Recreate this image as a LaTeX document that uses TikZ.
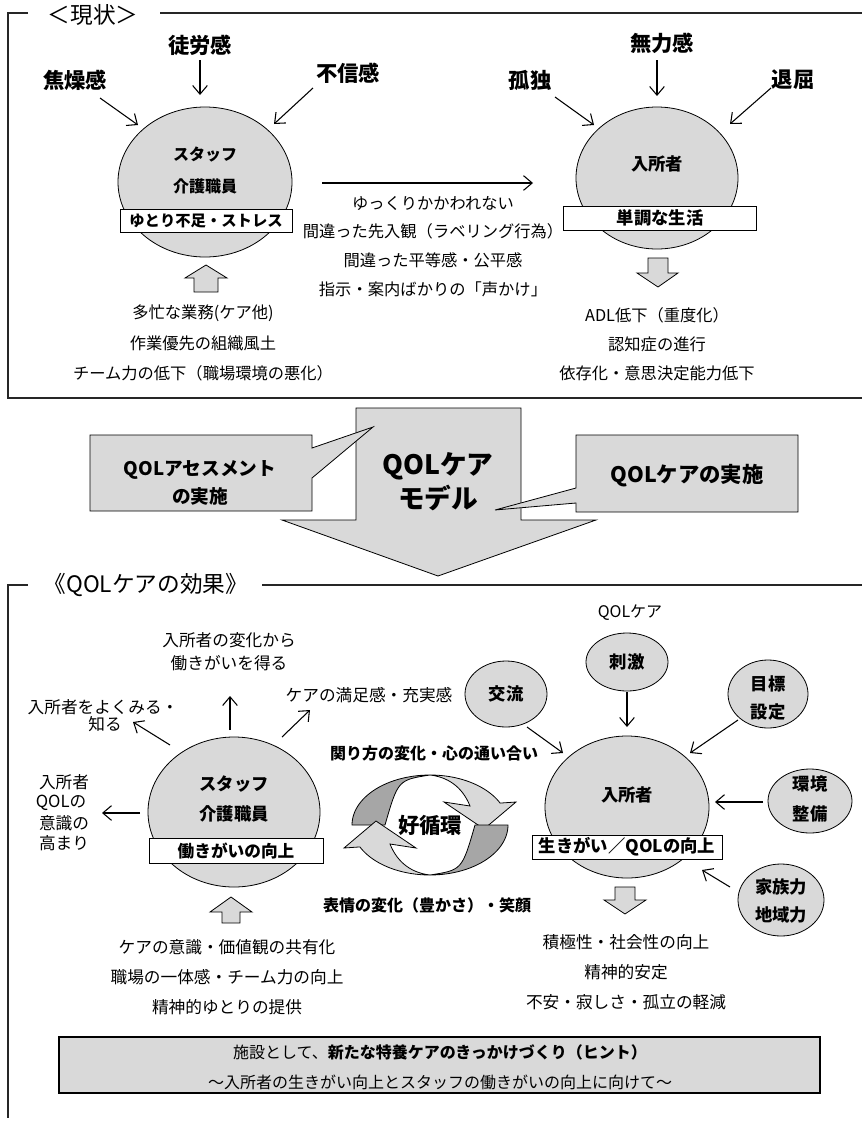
\documentclass[tikz,border=0pt]{standalone}
\usepackage{fontspec}
\setmainfont{Noto Sans CJK JP}
\usetikzlibrary{arrows.meta,shapes.geometric}
\definecolor{fillg}{HTML}{D9D9D9}
\definecolor{darkg}{HTML}{A6A6A6}
\begin{document}
\begin{tikzpicture}[x=0.75pt,y=-0.75pt,
  every node/.style={inner sep=0pt},
  txt/.style={font=\fontsize{#1}{#1}\selectfont},
  btxt/.style={font=\fontsize{#1}{#1}\selectfont\bfseries},
  arr/.style={-{Straight Barb[length=6.5pt,width=11pt]}, line width=0.8pt},
  ell/.style={ellipse, draw, fill=fillg, line width=0.6pt},
  wbox/.style={draw, fill=white, line width=0.7pt},
  blk/.style={draw, fill=fillg, line width=0.6pt, line join=miter},
  frame/.style={line width=0.9pt, draw=black!85}
]
\useasboundingbox (0,0) rectangle (862,1125);

% ---------------- top frame ----------------
\draw[frame] (28,13) -- (8,13) -- (8,398) -- (862,398);
\draw[frame] (160,13) -- (862,13);
\node[txt=17] (title1) at (93,15) {＜現状＞};

% ellipses
\node[ell, minimum width=130.5pt, minimum height=112.5pt] (staff1) at (205,182) {};
\node[ell, minimum width=121.5pt, minimum height=106.5pt] (res1) at (657,178) {};
\node[btxt=12] (s1a) at (205,155) {スタッフ};
\node[btxt=12] (s1b) at (205,186) {介護職員};
\node[wbox, btxt=11.5, minimum width=129pt, minimum height=17.5pt] (s1box) at (206,221) {ゆとり不足・ストレス};
\node[btxt=13] (r1a) at (657,164) {入所者};
\node[wbox, btxt=13, minimum width=144.75pt, minimum height=18pt] (r1box) at (660,218) {単調な生活};

% feelings
\node[btxt=16] (f1) at (75,80) {焦燥感};
\node[btxt=16] (f2) at (200,45) {徒労感};
\node[btxt=16] (f3) at (348,73) {不信感};
\node[btxt=16] (f4) at (530,80) {孤独};
\node[btxt=16] (f5) at (662,43) {無力感};
\node[btxt=16] (f6) at (793,80) {退屈};
\coordinate (a1s) at (100,98);  \coordinate (a1e) at (138,125);
\coordinate (a2s) at (200,60);  \coordinate (a2e) at (200,95);
\coordinate (a3s) at (313,88);  \coordinate (a3e) at (274,124);
\coordinate (a4s) at (555,97);  \coordinate (a4e) at (594,125);
\coordinate (a5s) at (657,60);  \coordinate (a5e) at (657,96);
\coordinate (a6s) at (771,88);  \coordinate (a6e) at (730,124);
\foreach \i in {1,...,6} {\draw[arr] (a\i s) -- (a\i e);}

% middle arrow and texts
\coordinate (m1s) at (322,183); \coordinate (m1e) at (533,183);
\draw[arr] (m1s) -- (m1e);
\node[txt=12.2] (mt1) at (433,203) {ゆっくりかかわれない};
\node[txt=12.2] (mt2) at (433,231) {間違った先入観（ラベリング行為）};
\node[txt=12.2] (mt3) at (433,260) {間違った平等感・公平感};
\node[txt=12.2] (mt4) at (433,289) {指示・案内ばかりの「声かけ」};

% block arrows
\draw[blk] (206,265) -- (227,278) -- (218,278) -- (218,292) -- (194,292) -- (194,278) -- (185,278) -- cycle;
\draw[blk] (658,287) -- (678,273) -- (668,273) -- (668,258) -- (648,258) -- (648,273) -- (637,273) -- cycle;

\node[txt=12.2] (lt1) at (203,313) {多忙な業務(ケア他)};
\node[txt=12.2] (lt2) at (203,343) {作業優先の組織風土};
\node[txt=12.2] (lt3) at (203,373) {チーム力の低下（職場環境の悪化）};
\node[txt=12.2] (rt1) at (657,315) {ADL低下（重度化）};
\node[txt=12.2] (rt2) at (657,344) {認知症の進行};
\node[txt=12.2] (rt3) at (657,373) {依存化・意思決定能力低下};

% ---------------- middle ----------------
\draw[blk] (356,408) -- (521,408) -- (521,520) -- (596,520) -- (438,576) -- (282,520) -- (356,520) -- cycle;
\node[btxt=20] (qm1) at (438,466) {QOLケア};
\node[btxt=20] (qm2) at (438,498) {モデル};
\draw[blk] (90,435) -- (312,435) -- (312,448) -- (373,427) -- (312,478) -- (312,511) -- (90,511) -- cycle;
\draw[blk] (576,435) -- (798,435) -- (798,512) -- (576,512) -- (576,503) -- (495,510) -- (576,488) -- cycle;
\node[btxt=14] (c1a) at (200,470) {QOLアセスメント};
\node[btxt=14] (c1b) at (200,496) {の実施};
\node[btxt=16] (c2) at (687,476) {QOLケアの実施};

% ---------------- bottom frame ----------------
\draw[frame] (28,585) -- (8,585) -- (8,1118);
\draw[frame] (262,585) -- (862,585);
\node[txt=17] (title2) at (146,585) {《QOLケアの効果》};

% staff ellipse bottom
\node[ell, minimum width=129pt, minimum height=112.5pt] (staff2) at (234,812) {};
\node[btxt=13] (s2a) at (234,784) {スタッフ};
\node[btxt=13] (s2b) at (234,814) {介護職員};
\node[wbox, btxt=12.5, minimum width=130.5pt, minimum height=18.5pt] (s2box) at (236,851) {働きがいの向上};

\node[txt=12.5] (e1a) at (229,640) {入所者の変化から};
\node[txt=12.5] (e1b) at (229,663) {働きがいを得る};
\node[txt=12.5] (e2a) at (103,707) {入所者をよくみる・};
\node[txt=12.5] (e2b) at (105,724) {知る};
\node[txt=12.5] (e3) at (369,695) {ケアの満足感・充実感};
\node[txt=12.5] (e4a) at (64,782) {入所者};
\node[txt=12.5] (e4b) at (61,803) {QOLの};
\node[txt=12.5] (e4c) at (64,823) {意識の};
\node[txt=12.5] (e4d) at (64,843) {高まり};
\coordinate (b1s) at (230,730); \coordinate (b1e) at (230,696);
\coordinate (b2s) at (170,745); \coordinate (b2e) at (133,722);
\coordinate (b3s) at (282,737); \coordinate (b3e) at (310,710);
\coordinate (b4s) at (140,813); \coordinate (b4e) at (102,813);
\foreach \i in {1,...,4} {\draw[arr] (b\i s) -- (b\i e);}

\draw[blk] (231,897) -- (252,912) -- (240,912) -- (240,923) -- (222,923) -- (222,912) -- (210,912) -- cycle;
\node[txt=12.5] (lb1) at (227,947) {ケアの意識・価値観の共有化};
\node[txt=12.5] (lb2) at (227,977) {職場の一体感・チーム力の向上};
\node[txt=12.5] (lb3) at (227,1007) {精神的ゆとりの提供};

% cycle arrows
\begin{scope}
  \path[draw, fill=fillg, line width=0.6pt] (430,775) -- plot[domain=270:334, samples=30] ({430+78*cos(\x)},{825+50*sin(\x)}) -- (516,802) -- (484,829) -- (444,802) -- (470,806) .. controls (462,786) and (447,777) .. (430,775) -- cycle;
  \path[draw, fill=darkg, line width=0.6pt] plot[domain=180:270, samples=30] ({430+78*cos(\x)},{825+50*sin(\x)}) .. controls (398,780) .. (385,825) -- cycle;
\end{scope}
\begin{scope}[rotate around={180:(430,825)}]
  \path[draw, fill=fillg, line width=0.6pt] (430,775) -- plot[domain=270:334, samples=30] ({430+78*cos(\x)},{825+50*sin(\x)}) -- (516,802) -- (484,829) -- (444,802) -- (470,806) .. controls (462,786) and (447,777) .. (430,775) -- cycle;
  \path[draw, fill=darkg, line width=0.6pt] plot[domain=180:270, samples=30] ({430+78*cos(\x)},{825+50*sin(\x)}) .. controls (398,780) .. (385,825) -- cycle;
\end{scope}
\node[btxt=16] (cyc) at (430,825) {好循環};
\node[btxt=12] (k1) at (434,753) {関り方の変化・心の通い合い};
\node[btxt=12] (k2) at (427,905) {表情の変化（豊かさ）・笑顔};

% resident bottom
\node[ell, minimum width=123pt, minimum height=106.5pt] (res2) at (627,807) {};
\node[btxt=13] (r2a) at (627,795) {入所者};
\node[wbox, btxt=13, minimum width=142.5pt, minimum height=18pt] (r2box) at (627,847) {生きがい／QOLの向上};

\node[txt=12] (qlab) at (630,613) {QOLケア};
\node[ell, minimum width=61.5pt, minimum height=43.5pt] (sat1) at (627,662) {};
\node[btxt=13] at (sat1) {刺激};
\node[ell, minimum width=61.5pt, minimum height=49.5pt] (sat2) at (506,694) {};
\node[btxt=13] at (sat2) {交流};
\node[ell, minimum width=60pt, minimum height=51pt] (sat3) at (768,694) {};
\node[btxt=13] (sat3a) at (768,684) {目標};
\node[btxt=13] (sat3b) at (768,712) {設定};
\node[ell, minimum width=63pt, minimum height=48pt] (sat4) at (810,801) {};
\node[btxt=13] (sat4a) at (810,784) {環境};
\node[btxt=13] (sat4b) at (810,814) {整備};
\node[ell, minimum width=64.5pt, minimum height=54pt] (sat5) at (781,900) {};
\node[btxt=13] (sat5a) at (781,887) {家族力};
\node[btxt=13] (sat5b) at (781,915) {地域力};

\coordinate (c1s) at (627,692); \coordinate (c1e) at (627,727);
\coordinate (c2s) at (527,727); \coordinate (c2e) at (563,753);
\coordinate (c3s) at (738,720); \coordinate (c3e) at (690,753);
\coordinate (c4s) at (763,802); \coordinate (c4e) at (715,802);
\coordinate (c5s) at (730,887); \coordinate (c5e) at (702,870);
\foreach \i in {1,...,5} {\draw[arr] (c\i s) -- (c\i e);}

\draw[blk] (625,914) -- (646,900) -- (635,900) -- (635,887) -- (615,887) -- (615,900) -- (604,900) -- cycle;
\node[txt=12.5] (rb1) at (626,942) {積極性・社会性の向上};
\node[txt=12.5] (rb2) at (626,972) {精神的安定};
\node[txt=12.5] (rb3) at (626,1002) {不安・寂しさ・孤立の軽減};

% bottom box
\draw[draw, fill=fillg, line width=0.8pt] (59,1037) rectangle (820,1093);
\node[txt=12] (bx1) at (440,1052) {施設として、\textbf{新たな特養ケアのきっかけづくり（ヒント）}};
\node[txt=12] (bx2) at (440,1082) {～入所者の生きがい向上とスタッフの働きがいの向上に向けて～};
\end{tikzpicture}
\end{document}
